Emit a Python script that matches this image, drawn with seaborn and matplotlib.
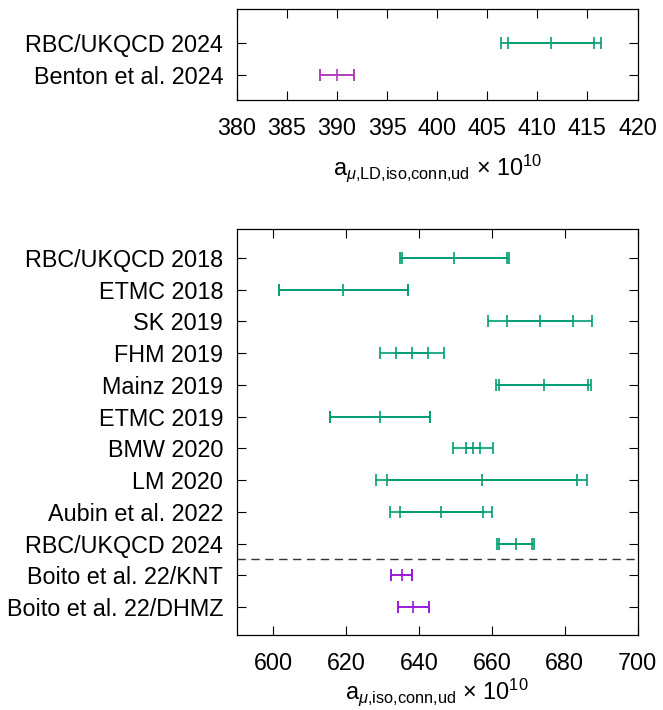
import matplotlib
matplotlib.use('Agg')
import matplotlib.pyplot as plt
import numpy as np
import seaborn as sb

sb.set_style('ticks')
plt.rcParams['font.family'] = ['Liberation Sans', 'DejaVu Sans']
plt.rcParams['mathtext.fontset'] = 'custom'
plt.rcParams['mathtext.rm'] = 'Liberation Sans'
plt.rcParams['mathtext.it'] = 'Liberation Sans:italic'
plt.rcParams['text.color'] = 'black'
plt.rcParams['axes.labelcolor'] = 'black'
plt.rcParams['xtick.color'] = 'black'
plt.rcParams['ytick.color'] = 'black'

# window contribution (top panel)
ld_labels = ['RBC/UKQCD 2024', 'Benton et al. 2024']
ld_value = [411.4, 390.0]
ld_stat = [4.3, 1.7]
ld_total = [5.0, 1.7]
ld_colors = ['#009e73', '#b23cb8']

# full light-quark connected (bottom panel)
iso_labels = ['RBC/UKQCD 2018', 'ETMC 2018', 'SK 2019', 'FHM 2019', 'Mainz 2019',
              'ETMC 2019', 'BMW 2020', 'LM 2020', 'Aubin et al. 2022',
              'RBC/UKQCD 2024', 'Boito et al. 22/KNT', 'Boito et al. 22/DHMZ']
iso_value = [649.7, 619.2, 673.2, 638.0, 674.2, 629.3, 654.8, 657.2, 646.1, 666.5, 635.2, 638.4]
iso_stat = [14.4, 17.8, 9.0, 4.4, 12.3, 13.7, 2.0, 26.1, 11.4, 4.6, 2.8, 4.2]
iso_total = [15.0, 17.8, 14.2, 8.8, 13.0, 13.7, 5.5, 29.0, 14.0, 5.0, 2.8, 4.2]
iso_colors = ['#009e73'] * 10 + ['#9a1ad8'] * 2

fig = plt.figure(figsize=(6.63, 7.10), dpi=100)
ax1 = fig.add_axes([237 / 663, 610 / 710, 400.5 / 663, 91 / 710])
ax2 = fig.add_axes([237 / 663, 75 / 710, 400.5 / 663, 406 / 710])


def draw(ax, labels, vals, stat, tot, colors):
    for i in range(len(labels)):
        for err in (tot[i], stat[i]):
            ax.errorbar(vals[i], i, xerr=err, fmt='none', ecolor=colors[i],
                        elinewidth=1.2, capsize=4, capthick=1.2)
        ax.plot(vals[i], i, marker='|', ms=9, mew=1.2, color=colors[i])
    ax.set_yticks(range(len(labels)))
    ax.set_yticklabels(labels)
    ax.tick_params(axis='both', direction='in', length=6.5, width=0.8,
                   labelsize=16.8, top=True, right=True)
    ax.tick_params(axis='y', pad=10)
    ax.tick_params(axis='x', pad=12)
    for s in ax.spines.values():
        s.set_linewidth(0.9)
        s.set_color('black')


draw(ax1, ld_labels, ld_value, ld_stat, ld_total, ld_colors)
ax1.set_xlim(380, 420)
ax1.set_xticks(np.arange(380, 421, 5))
ax1.set_ylim(1.78, -1.06)
ax1.set_xlabel(r'a$_{\mu\mathregular{{,}LD{,}iso{,}conn{,}ud}}$ × 10$^{10}$', fontsize=16.8, labelpad=9)

draw(ax2, iso_labels, iso_value, iso_stat, iso_total, iso_colors)
ax2.axhline(9.5, color='#333333', lw=1.0, ls=(0, (6, 4)))
ax2.set_xlim(590, 700)
ax2.set_xticks(np.arange(600, 701, 20))
ax2.set_ylim(11.88, -0.91)
ax2.set_xlabel(r'a$_{\mu\mathregular{{,}iso{,}conn{,}ud}}$ × 10$^{10}$', fontsize=16.8, labelpad=1)

plt.savefig('out.png', dpi=100)
